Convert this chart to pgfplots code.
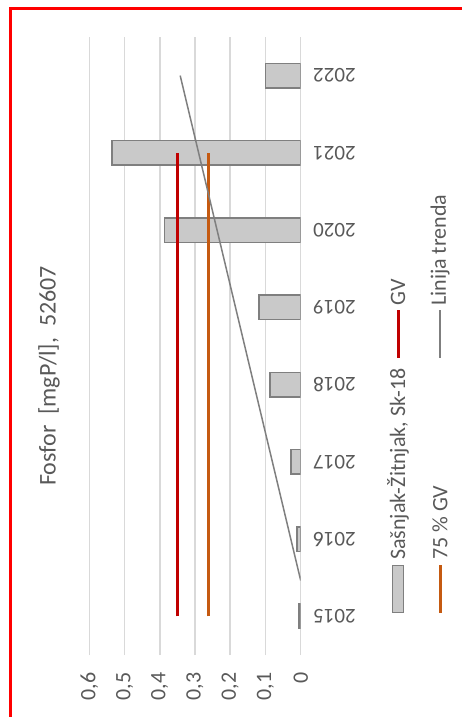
\documentclass[border=0pt]{standalone}
\usepackage{fontspec}
\setmainfont{Carlito}
\usepackage{pgfplots}
\pgfplotsset{compat=1.18}
\definecolor{txt}{HTML}{595959}
\definecolor{gridc}{HTML}{D9D9D9}
\definecolor{barfill}{HTML}{C9C9C9}
\definecolor{barline}{HTML}{7F7F7F}
\definecolor{gvred}{HTML}{C00000}
\definecolor{gvorange}{HTML}{C55A11}
\definecolor{trend}{HTML}{7F7F7F}
\begin{document}
\begin{tikzpicture}[x=1pt,y=1pt]
\path[use as bounding box] (0,0) rectangle (462,717);
\begin{axis}[
  at={(89.3pt,62pt)}, anchor=south west,
  scale only axis, width=211.4pt, height=618pt,
  x dir=reverse,
  xmin=0, xmax=0.6, ymin=-0.5, ymax=7.5,
  xtick={0,0.1,0.2,0.3,0.4,0.5,0.6},
  xticklabels={0,{0,1},{0,2},{0,3},{0,4},{0,5},{0,6}},
  ytick={0,1,2,3,4,5,6,7},
  yticklabels={2015,2016,2017,2018,2019,2020,2021,2022},
  yticklabel pos=right,
  axis line style={draw=none},
  major tick length=0pt,
  xmajorgrids,
  grid style={gridc, line width=1.5pt},
  xticklabel style={font=\fontsize{22}{26}\selectfont, text=txt, yshift=-14pt, rotate=90, anchor=east},
  yticklabel style={font=\fontsize{21}{25}\selectfont, text=txt, xshift=9pt, rotate=180, anchor=east},
]
\addplot[xbar, bar width=0.32, fill=barfill, draw=barline, line width=1.5pt]
  coordinates {(0.005,0) (0.011,1) (0.0275,2) (0.087,3) (0.118,4) (0.387,5) (0.535,6) (0.100,7)};
\addplot[gvred, line width=3pt] coordinates {(0.35,0) (0.35,6)};
\addplot[gvorange, line width=3pt] coordinates {(0.2625,0) (0.2625,6)};
\addplot[trend, line width=1.5pt] coordinates {(0.342,7) (0,0.465)};
\end{axis}
% title
\node[rotate=90, text=txt, font=\fontsize{24}{28}\selectfont] at (49,341) {Fosfor\ \ [mgP/l],\ \ 52607};
% legend
\filldraw[fill=barfill, draw=barline, line width=1.5pt] (392.5,104.5) rectangle (403.5,151.5);
\node[rotate=90, anchor=west, text=txt, font=\fontsize{22}{26}\selectfont, inner sep=0pt] at (398,157) {Sašnjak-Žitnjak, Sk-18};
\draw[gvred, line width=3pt] (398,359) -- (398,407);
\node[rotate=90, anchor=west, text=txt, font=\fontsize{22}{26}\selectfont, inner sep=0pt] at (398,411) {GV};
\draw[gvorange, line width=3pt] (440,104) -- (440,152);
\node[rotate=90, anchor=west, text=txt, font=\fontsize{22}{26}\selectfont, inner sep=0pt] at (440,157) {75 \% GV};
\draw[trend, line width=1.5pt] (440,359) -- (440,407);
\node[rotate=90, anchor=west, text=txt, font=\fontsize{22}{26}\selectfont, inner sep=0pt] at (440,411) {Linija trenda};
% red frame
\draw[red, line width=3pt] (10.8,0) -- (10.8,708.5) -- (462,708.5);
\end{tikzpicture}
\end{document}
